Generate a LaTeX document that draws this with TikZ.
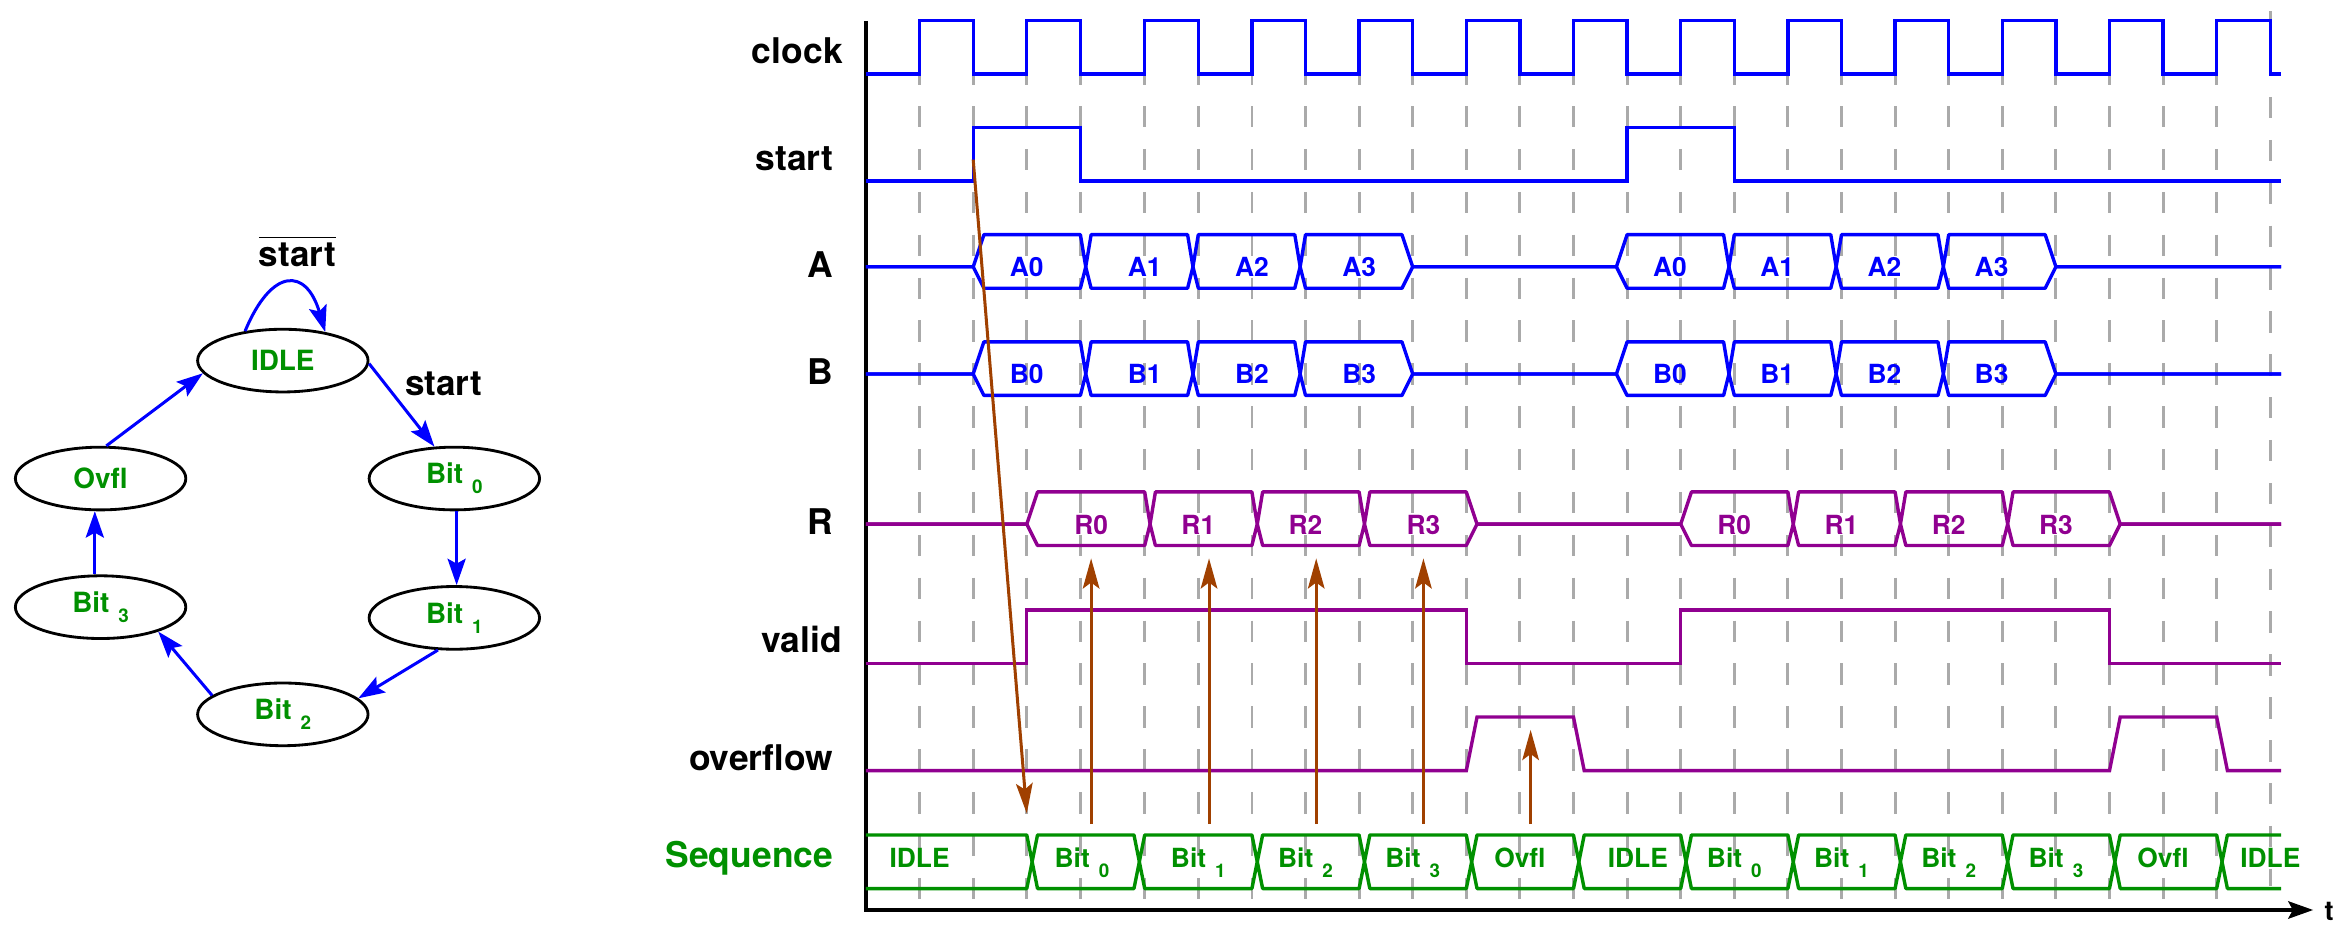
\documentclass[tikz,border=0pt]{standalone}
\usepackage{fontspec}
\setmainfont{TeX Gyre Heros}
\usepackage{tikz}
\usetikzlibrary{arrows.meta,shapes.geometric}

\definecolor{sigblue}{RGB}{0,0,255}
\definecolor{sigpurple}{RGB}{144,0,144}
\definecolor{seqgreen}{RGB}{0,144,0}
\definecolor{causebrown}{RGB}{160,64,0}
\definecolor{gridgray}{RGB}{170,170,170}

\newcommand{\stbit}[1]{Bit\hspace{2.4pt}\raisebox{-2.7pt}{\fontsize{5}{6}\selectfont #1}}

\begin{document}
\begin{tikzpicture}[x=0.5cm, y=0.5cm,
		sigtxt/.style={anchor=base east, inner sep=0pt, font=\fontsize{9.4}{11}\selectfont\bfseries},
		intxt/.style={anchor=base, inner sep=0pt, font=\fontsize{7}{8}\selectfont\bfseries},
		fsmstate/.style={ellipse, draw, line width=0.75pt, minimum width=1.59cm, minimum height=0.585cm, inner sep=0pt, text=seqgreen, font=\fontsize{7.4}{9}\selectfont\bfseries},
		trans/.style={sigblue, line width=0.8pt, -{Stealth[length=7pt, width=4.8pt, inset=1.3pt]}},
		wave/.style={line width=0.9pt},
		bus/.style={line width=0.9pt, line join=round},
		cause/.style={causebrown, line width=0.8pt, -{Stealth[length=8pt, width=4.4pt, inset=1.6pt]}},
		gridline/.style={gridgray, line width=0.75pt, dash pattern=on 0.2cm off 0.2cm}]
		\useasboundingbox (-17.157,-0.522) rectangle (26.631,16.978);

		% clock edges
		\foreach \x in {0,...,3} \draw[gridline] (\x,15.8) -- (\x,0.2);
		\foreach \k in {4,...,24} \draw[gridline] (\k+0.2,15.8) -- (\k+0.2,0.2);
		\draw[gridline] (25.2,16.77) -- (25.2,0.44);

		% axes
		\coordinate (top) at (-1,16.59);
		\coordinate (orig) at (-1,0);
		\coordinate (tend) at (26,0);
		\draw[line width=1pt, -{Stealth[length=6.6pt, width=4.6pt, inset=1.2pt]}] (top) -- (orig) -- (tend);
		\node[anchor=base west, inner sep=0pt, font=\fontsize{7.2}{8}\selectfont\bfseries] (tlab) at (26.2,-0.19) {t};

		% signal names
		\node[sigtxt] (lclock) at (-1.42,15.8) {clock};
		\node[sigtxt] (lstart) at (-1.6,13.8) {start};
		\node[sigtxt] (la) at (-1.6,11.8) {A};
		\node[sigtxt] (lb) at (-1.6,9.8) {B};
		\node[sigtxt] (lr) at (-1.6,7.0) {R};
		\node[sigtxt] (lvalid) at (-1.44,4.8) {valid};
		\node[sigtxt] (lovf) at (-1.6,2.6) {overflow};
		\node[sigtxt, seqgreen] (lseq) at (-1.6,0.8) {Sequence};

		% clock and start
		\draw[wave, sigblue] (-1,15.6) foreach \x in {0,2,4.2,6.2,8.2,10.2,12.2,14.2,16.2,18.2,20.2,22.2,24.2} { -- (\x,15.6) -- (\x,16.6) -- (\x+1,16.6) -- (\x+1,15.6) } -- (25.4,15.6);
		\draw[wave, sigblue] (-1,13.6) -- (1,13.6) -- (1,14.6) -- (3,14.6) -- (3,13.6) -- (13.2,13.6) -- (13.2,14.6) -- (15.2,14.6) -- (15.2,13.6) -- (25.4,13.6);

		% A and B
		\foreach \m in {12,10} \foreach \e in {0.6,-0.4}
		\draw[bus, sigblue] (-1,\m) -- (1,\m) -- (1.2,\m+\e) foreach \c in {3.1,5.1,7.1} { -- (\c-0.1,\m+\e) -- (\c,\m) -- (\c+0.1,\m+\e) } -- (9,\m+\e) -- (9.2,\m) -- (13,\m) -- (13.2,\m+\e) foreach \c in {15.1,17.1,19.1} { -- (\c-0.1,\m+\e) -- (\c,\m) -- (\c+0.1,\m+\e) } -- (21,\m+\e) -- (21.2,\m) -- (25.4,\m);
		\foreach \x/\l [count=\i] in {2/A0,4.2/A1,6.2/A2,8.2/A3,14/A0,16/A1,18/A2,20/A3}
		\node[intxt, sigblue] (a\i) at (\x,11.82) {\l};
		\foreach \x/\l [count=\i] in {2/B0,4.2/B1,6.2/B2,8.2/B3,14/B0,16/B1,18/B2,20/B3}
		\node[intxt, sigblue] (b\i) at (\x,9.82) {\l};

		% R
		\foreach \e in {0.6,-0.4}
		\draw[bus, sigpurple] (-1,7.2) -- (2,7.2) -- (2.2,7.2+\e) foreach \c in {4.3,6.3,8.3} { -- (\c-0.1,7.2+\e) -- (\c,7.2) -- (\c+0.1,7.2+\e) } -- (10.2,7.2+\e) -- (10.4,7.2) -- (14.2,7.2) -- (14.4,7.2+\e) foreach \c in {16.3,18.3,20.3} { -- (\c-0.1,7.2+\e) -- (\c,7.2) -- (\c+0.1,7.2+\e) } -- (22.2,7.2+\e) -- (22.4,7.2) -- (25.4,7.2);
		\foreach \x/\l [count=\i] in {3.2/R0,5.2/R1,7.2/R2,9.4/R3,15.2/R0,17.2/R1,19.2/R2,21.2/R3}
		\node[intxt, sigpurple] (r\i) at (\x,7.01) {\l};

		% valid and overflow
		\draw[wave, sigpurple] (-1,4.6) -- (2,4.6) -- (2,5.6) -- (10.2,5.6) -- (10.2,4.6) -- (14.2,4.6) -- (14.2,5.6) -- (22.2,5.6) -- (22.2,4.6) -- (25.4,4.6);
		\draw[wave, sigpurple] (-1,2.6) -- (10.2,2.6) -- (10.4,3.6) -- (12.2,3.6) -- (12.4,2.6) -- (22.2,2.6) -- (22.4,3.6) -- (24.2,3.6) -- (24.4,2.6) -- (25.4,2.6);

		% sequence
		\foreach \e in {0.5,-0.5}
		\draw[bus, seqgreen] (-1,0.9+\e) foreach \c in {2.1,4.1,6.3,8.3,10.3,12.3,14.3,16.3,18.3,20.3,22.3,24.3} { -- (\c-0.1,0.9+\e) -- (\c,0.9) -- (\c+0.1,0.9+\e) } -- (25.4,0.9+\e);
		\foreach \x/\l [count=\i] in {0/IDLE,3.03/\stbit{0},5.2/\stbit{1},7.2/\stbit{2},9.2/\stbit{3},11.2/Ovfl,13.4/IDLE,15.2/\stbit{0},17.2/\stbit{1},19.2/\stbit{2},21.2/\stbit{3},23.2/Ovfl,25.2/IDLE}
		\node[intxt, seqgreen] (s\i) at (\x,0.8) {\l};

		% causes
		\coordinate (go) at (1,14);
		\coordinate (go2) at (2,1.8);
		\draw[cause] (go) -- (go2);
		\foreach \x [count=\i] in {3.2,5.4,7.4,9.4} {
			\coordinate (from\i) at (\x,1.6);
			\coordinate (to\i) at (\x,6.56);
			\draw[cause] (from\i) -- (to\i);
		}
		\coordinate (from5) at (11.4,1.6);
		\coordinate (to5) at (11.4,3.36);
		\draw[cause] (from5) -- (to5);

		% state machine
		\begin{scope}[shift={(-11.88,10.25)}]
			\node[fsmstate] (idle) at (0,0) {IDLE};
			\node[fsmstate] (bit0) at (3.2,-2.2) {\stbit{0}};
			\node[fsmstate] (bit1) at (3.2,-4.8) {\stbit{1}};
			\node[fsmstate] (bit2) at (0,-6.6) {\stbit{2}};
			\node[fsmstate] (bit3) at (-3.4,-4.6) {\stbit{3}};
			\node[fsmstate] (ovfl) at (-3.4,-2.2) {Ovfl};
			\node[anchor=base, inner sep=0pt, font=\fontsize{9.3}{11}\selectfont\bfseries] (notstart) at (0.27,1.76) {$\overline{\mbox{start}}$};
			\node[anchor=base, inner sep=0pt, font=\fontsize{9.3}{11}\selectfont\bfseries] (isstart) at (3.0,-0.66) {start};
			\draw[trans] (idle.142) .. controls +(0.5,1.2) and +(-0.35,1.2) .. (idle.34);
			\draw[trans] (idle.-2) -- (bit0.122);
			\draw[trans] (bit0.-86) -- (bit1.86);
			\draw[trans] (bit1.-117) -- (bit2.12);
			\draw[trans] (bit2.165) -- (bit3.-23);
			\draw[trans] (bit3.100) -- (ovfl.-100);
			\draw[trans] (ovfl.80) -- (idle.189);
		\end{scope}
\end{tikzpicture}
\end{document}
